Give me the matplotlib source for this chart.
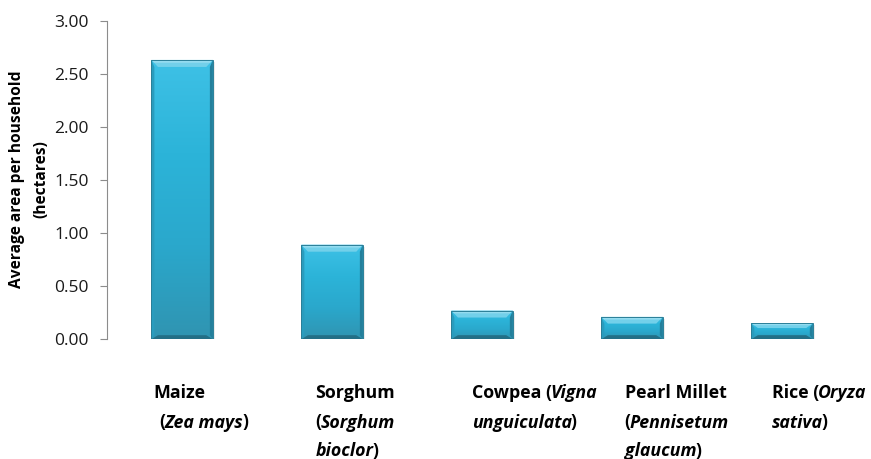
import matplotlib
matplotlib.use("Agg")
from matplotlib import pyplot as plt
from matplotlib import transforms
from matplotlib.colors import LinearSegmentedColormap
from matplotlib.patches import Polygon, Rectangle
import numpy as np

crops = ["Maize", "Sorghum", "Cowpea", "Pearl Millet", "Rice"]
area = [2.63, 0.89, 0.27, 0.21, 0.15]
yticks = [0.0, 0.5, 1.0, 1.5, 2.0, 2.5, 3.0]
ylabel = "Average area per household\n(hectares)"

# category labels: lines of (text, style) pieces, b = bold, bi = bold italic
labels = [
    [[("Maize", "b")], [("(", "b"), ("Zea mays", "bi"), (")", "b")]],
    [[("Sorghum", "b")], [("(", "b"), ("Sorghum", "bi")], [("bioclor", "bi"), (")", "b")]],
    [[("Cowpea (", "b"), ("Vigna", "bi")], [("unguiculata", "bi"), (")", "b")]],
    [[("Pearl Millet", "b")], [("(", "b"), ("Pennisetum", "bi")], [("glaucum", "bi"), (")", "b")]],
    [[("Rice (", "b"), ("Oryza", "bi")], [("sativa", "bi"), (")", "b")]],
]
label_dx = [-0.19, -0.11, -0.07, -0.05, -0.07]   # label start, relative to category
first_indent = [[0, 6], [0, 0, 0], [0, 0], [0, 0, 0], [0, 0]]  # px

FONT = "Open Sans"
plt.rcParams["font.family"] = [FONT, "DejaVu Sans"]

fig = plt.figure(figsize=(8.71, 4.59), dpi=100)
ax = fig.add_axes([0.123, 0.261, 0.861, 0.694])
x = np.arange(len(crops))
bars = ax.bar(x, area, 0.41, color="none", edgecolor="none", zorder=2)
ax.set_xlim(-0.5, len(crops) - 0.5)
ax.set_ylim(0, 3)
ax.set_yticks(yticks)
ax.set_yticklabels([f"{v:.2f}" for v in yticks], fontsize=12.5, color="#1a1a1a")
ax.set_xticks([])
for s in ["top", "right", "bottom"]:
    ax.spines[s].set_visible(False)
ax.spines["left"].set_color("#8c8c8c")
ax.tick_params(axis="y", length=5, color="#8c8c8c", pad=8)
fig.text(0.033, 0.61, ylabel, rotation=90, ha="center", va="center",
         fontsize=11.2, fontweight="bold", linespacing=1.7)

# bevelled gradient bars
face = LinearSegmentedColormap.from_list("face", ["#3094b1", "#2aa8cc", "#2cb4d9", "#3ec1e6"])
grad = np.linspace(0, 1, 256).reshape(-1, 1)
fig.canvas.draw()
px = ax.transData.inverted()
o = px.transform((0, 0))
sx, _ = px.transform((3, 0)) - o   # side bevel
_, ty = px.transform((0, 7)) - o   # top bevel
_, dy = px.transform((0, 4)) - o   # bottom bevel
shx, shy = px.transform((2.5, 2)) - o
for b in bars:
    x0, w, h = b.get_x(), b.get_width(), b.get_height()
    x1 = x0 + w
    ax.add_patch(Rectangle((x0 + shx, -shy), w, h, color="#000000", alpha=0.08, lw=0, zorder=1))
    im = ax.imshow(grad, cmap=face, aspect="auto", extent=(x0, x1, 0, h),
                   origin="lower", zorder=2, interpolation="bilinear")
    im.set_clip_path(b)
    et = min(ty, h * 0.3)
    ex = sx * 2.2
    ax.add_patch(Polygon([(x0, h), (x1, h), (x1 - ex, h - et), (x0 + ex, h - et)],
                         color="#72d0ea", lw=0, zorder=3))
    ax.add_patch(Polygon([(x0, h), (x1, h), (x1 - ex * 0.4, h - et * 0.4), (x0 + ex * 0.4, h - et * 0.4)],
                         color="#94dcf0", lw=0, zorder=3))
    ax.add_patch(Polygon([(x0, 0), (x1, 0), (x1 - ex, dy), (x0 + ex, dy)],
                         color="#236f86", lw=0, zorder=3))
    ax.add_patch(Polygon([(x0, 0), (x0 + sx, dy), (x0 + sx, h - et), (x0, h)],
                         color="#2a9cbd", lw=0, zorder=3))
    ax.add_patch(Polygon([(x1, 0), (x1 - sx, dy), (x1 - sx, h - et), (x1, h)],
                         color="#247f9b", lw=0, zorder=3))
    ax.add_patch(Rectangle((x0, 0), w, h, fill=False, ec="#2b7f98", lw=0.7, zorder=4))

# category labels with mixed bold / bold italic
renderer = fig.canvas.get_renderer()
baselines = [398, 427.5, 456]
for i, lines in enumerate(labels):
    for j, pieces in enumerate(lines):
        yf = 1 - baselines[j] / 459
        base = transforms.blended_transform_factory(ax.transData, fig.transFigure)
        off = first_indent[i][j]
        for txt, st in pieces:
            tr = transforms.offset_copy(base, fig=fig, x=off, y=0, units="dots")
            t = fig.text(i + label_dx[i], yf, txt, transform=tr, fontsize=12.8,
                         fontweight="bold", fontstyle="italic" if st == "bi" else "normal",
                         ha="left", va="baseline")
            off += t.get_window_extent(renderer).width - 1.0

fig.savefig("out.png", dpi=100)
